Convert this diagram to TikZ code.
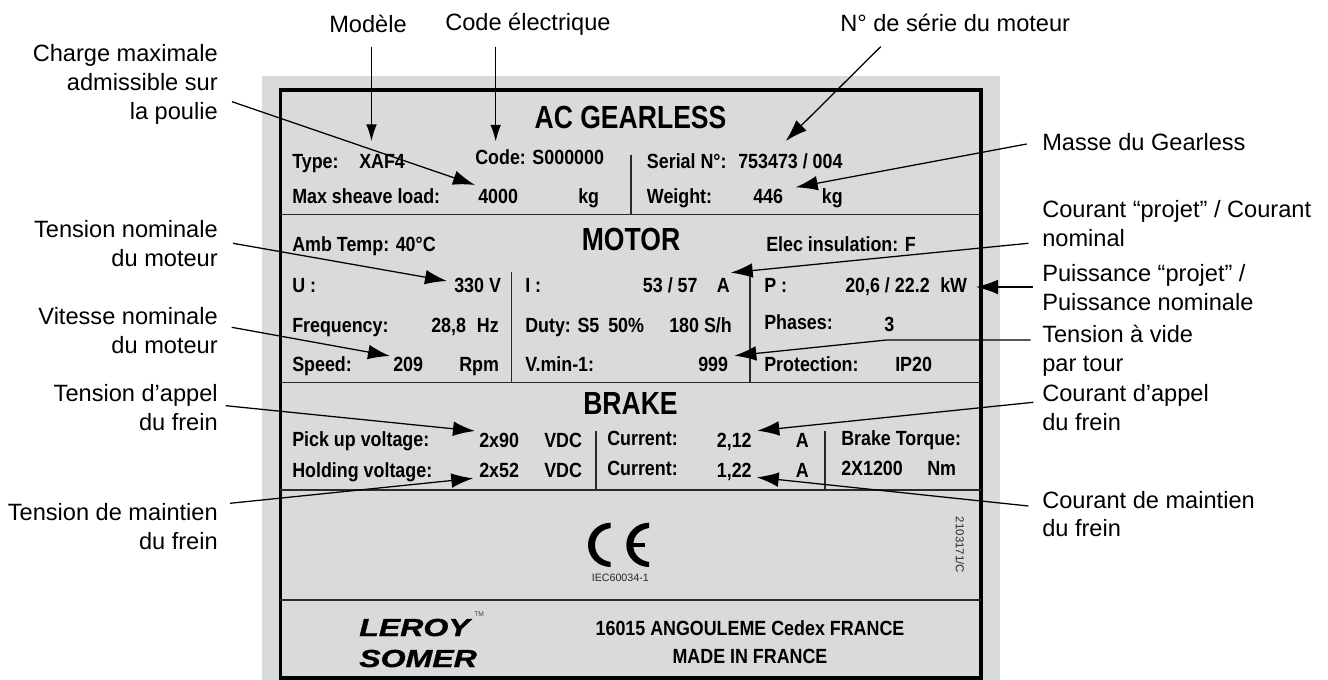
\documentclass[tikz,border=0pt]{standalone}
\usepackage{fontspec}
\usetikzlibrary{arrows.meta}
\setmainfont{Liberation Sans}
\newfontfamily\platefont[FakeStretch=0.87]{Liberation Sans}
\newfontfamily\titlefont[FakeStretch=0.83]{Liberation Sans}
\newfontfamily\logofont[FakeStretch=1.3,FakeBold=1.2]{Liberation Sans}
\definecolor{panelgray}{HTML}{D9DADC}
\definecolor{ruledark}{HTML}{2A2A2A}
\tikzset{
  callout/.style={font=\fontsize{17.7}{21.75}\selectfont,inner sep=0pt,text=black},
  calloutR/.style={callout,anchor=base east,align=right},
  calloutL/.style={callout,anchor=base west,align=left},
  plate/.style={font=\platefont\bfseries\fontsize{15.4}{17}\selectfont,anchor=base west,inner sep=0pt,text=black},
  platetitle/.style={font=\titlefont\bfseries\fontsize{24}{26}\selectfont,anchor=base,inner sep=0pt,text=black},
  platecenter/.style={font=\platefont\bfseries\fontsize{15.4}{17}\selectfont,anchor=base,inner sep=0pt,text=black},
  logotext/.style={font=\logofont\bfseries\itshape\fontsize{18.5}{20}\selectfont,anchor=base west,inner sep=0pt,text=black},
  rule/.style={draw=ruledark,line width=1.1pt},
  pointer/.style={draw=black,line width=0.95pt,-{Latex[length=16.5pt,width=11pt]}},
  pointersmall/.style={draw=black,line width=0.95pt,-{Latex[length=12.5pt,width=8pt]}},
}
\begin{document}
\begin{tikzpicture}[x=0.75pt,y=-0.75pt]
\useasboundingbox (0,0) rectangle (1328,680);
% panel and frame
\fill[panelgray] (262,76) rectangle (1000,680);
\draw[black,line width=2.4pt] (280.8,90) rectangle (981,678);
\draw[rule] (280,214.5) -- (981,214.5);
\draw[rule] (280,382.5) -- (981,382.5);
\draw[rule] (280,490) -- (981,490);
\draw[rule] (280,600) -- (981,600);
\draw[rule] (631,155) -- (631,214);
\draw[rule] (511.7,272) -- (511.7,382);
\draw[rule] (750,272) -- (750,382);
\draw[rule] (596,431) -- (596,490);
\draw[rule] (825,431) -- (825,490);
% titles
\node[platetitle] (acg) at (630.5,129) {AC GEARLESS};
\node[platetitle] (motor) at (631,251) {MOTOR};
\node[platetitle] (brake) at (630.5,415) {BRAKE};
% AC gearless rows
\node[plate] (type) at (292,169) {Type:};
\node[plate] (xaf) at (359,169) {XAF4};
\node[plate] (code) at (475,165) {Code: S000000};
\node[plate] (serial) at (646.7,169) {Serial N°:};
\node[plate] (serialv) at (738,169) {753473 / 004};
\node[plate] (maxs) at (292,204) {Max sheave load:};
\node[plate] (maxv) at (478,204) {4000};
\node[plate] (maxu) at (578,204) {kg};
\node[plate] (wgt) at (646.7,204) {Weight:};
\node[plate] (wgtv) at (753,204) {446};
\node[plate] (wgtu) at (821.7,204) {kg};
% motor rows
\node[plate] (amb) at (292,251.7) {Amb Temp: 40°C};
\node[plate] (elec) at (766,251.7) {Elec insulation: F};
\node[plate] (u) at (292,293) {U :};
\node[plate] (uv) at (454,293) {330 V};
\node[plate] (i) at (525,293) {I :};
\node[plate] (iv) at (642.7,293) {53 / 57};
\node[plate] (iu) at (716.7,293) {A};
\node[plate] (p) at (764,293) {P :};
\node[plate] (pv) at (845,293) {20,6 / 22.2};
\node[plate] (pu) at (940,293) {kW};
\node[plate] (freq) at (292,333) {Frequency:};
\node[plate] (freqv) at (431,333) {28,8};
\node[plate] (frequ) at (476.7,333) {Hz};
\node[plate] (duty) at (525,333) {Duty: S5};
\node[plate] (dutyb) at (608,333) {50\%};
\node[plate] (dutyc) at (669,333) {180 S/h};
\node[plate] (ph) at (764,329.5) {Phases:};
\node[plate] (phv) at (884,331.7) {3};
\node[plate] (spd) at (292,371.7) {Speed:};
\node[plate] (spdv) at (393,371.7) {209};
\node[plate] (spdu) at (459,371.7) {Rpm};
\node[plate] (vmin) at (525,371.7) {V.min-1:};
\node[plate] (vminv) at (698,371.7) {999};
\node[plate] (prot) at (764,371.7) {Protection:};
\node[plate] (protv) at (895,371.7) {IP20};
% brake rows
\node[plate] (pick) at (292,446.5) {Pick up voltage:};
\node[plate] (pickv) at (479,448) {2x90};
\node[plate] (picku) at (544,448) {VDC};
\node[plate] (cura) at (607,446) {Current:};
\node[plate] (curav) at (716.6,447.5) {2,12};
\node[plate] (curau) at (795.7,447.5) {A};
\node[plate] (torq) at (841,446) {Brake Torque:};
\node[plate] (hold) at (292,478) {Holding voltage:};
\node[plate] (holdv) at (479,478) {2x52};
\node[plate] (holdu) at (544,478) {VDC};
\node[plate] (curb) at (607,476) {Current:};
\node[plate] (curbv) at (716.6,478) {1,22};
\node[plate] (curbu) at (795.7,478) {A};
\node[plate] (torqv) at (841,476) {2X1200};
\node[plate] (torqu) at (927,476) {Nm};
% CE mark
\fill[black] (610.7,522.7) .. controls (598.5,522.7) and (588,532.5) .. (588,545) .. controls (588,557.5) and (598.5,567) .. (610.7,567) -- (610.7,562) .. controls (602,560.5) and (595,555) .. (595,545) .. controls (595,535) and (602,529.5) .. (610.7,528) -- cycle;
\fill[black] (649,522.7) .. controls (636.8,522.7) and (626.3,532.5) .. (626.3,545) .. controls (626.3,557.5) and (636.8,567) .. (649,567) -- (649,562) .. controls (640.3,560.5) and (633.3,555) .. (633.3,545) .. controls (633.3,535) and (640.3,529.5) .. (649,528) -- cycle;
\fill[black] (632,543.3) rectangle (645,546.7);
\node[font=\fontsize{8}{9}\selectfont,anchor=base,inner sep=0pt,text=black!85] (iec) at (620.3,581) {IEC60034-1};
\node[font=\fontsize{8.6}{10}\selectfont,rotate=-90,anchor=center,inner sep=0pt,text=black!85] (ref) at (960,545) {2103171/C};
% footer
\node[logotext] (leroy) at (359,636) {LEROY};
\node[logotext] (somer) at (359,667) {SOMER};
\node[font=\fontsize{5}{6}\selectfont,anchor=base west,inner sep=0pt,text=black!75] (tm) at (474,616) {TM};
\node[platecenter] (addr) at (750,635) {16015 ANGOULEME Cedex FRANCE};
\node[platecenter] (made) at (750,663) {MADE IN FRANCE};
% callouts
\node[callout,anchor=base west] (lmod) at (329,32.3) {Modèle};
\node[callout,anchor=base west] (lcode) at (445,30.7) {Code électrique};
\node[callout,anchor=base west] (lser) at (840,32) {N° de série du moteur};
\node[calloutR] (lcharge) at (218,61.7) {Charge maximale};
\node[calloutR] (lcharge2) at (218,90.7) {admissible sur};
\node[calloutR] (lcharge3) at (218,119.5) {la poulie};
\node[calloutR] (ltn) at (218,237.3) {Tension nominale};
\node[calloutR] (ltn2) at (218,266.5) {du moteur};
\node[calloutR] (lvn) at (218,325) {Vitesse nominale};
\node[calloutR] (lvn2) at (218,354) {du moteur};
\node[calloutR] (lta) at (218,401.7) {Tension d’appel};
\node[calloutR] (lta2) at (218,430.7) {du frein};
\node[calloutR] (ltm) at (218,520.7) {Tension de maintien};
\node[calloutR] (ltm2) at (218,549.5) {du frein};
\node[calloutL] (lmas) at (1042,150.7) {Masse du Gearless};
\node[calloutL] (lcp) at (1042,217.7) {Courant “projet” / Courant};
\node[calloutL] (lcp2) at (1042,246.7) {nominal};
\node[calloutL] (lpu) at (1042,281.7) {Puissance “projet” /};
\node[calloutL] (lpu2) at (1042,310.7) {Puissance nominale};
\node[calloutL] (ltv) at (1042,342.7) {Tension à vide};
\node[calloutL] (ltv2) at (1042,372) {par tour};
\node[calloutL] (lca) at (1042,401.7) {Courant d’appel};
\node[calloutL] (lca2) at (1042,430.7) {du frein};
\node[calloutL] (lcm) at (1042,508.3) {Courant de maintien};
\node[calloutL] (lcm2) at (1042,537) {du frein};
% connector ends
\coordinate (amod) at (371.5,46.7); \coordinate (bmod) at (371.5,141);
\coordinate (acode) at (495.7,46.7); \coordinate (bcode) at (495.7,141.5);
\coordinate (aser) at (880.7,46.7); \coordinate (bser) at (785.7,141);
\coordinate (achg) at (232,101.7); \coordinate (bchg) at (475,185);
\coordinate (atn) at (233,243.3); \coordinate (btn) at (447,281);
\coordinate (avn) at (231.7,327.3); \coordinate (bvn) at (390,356);
\coordinate (ata) at (225.7,405.7); \coordinate (bta) at (475,431);
\coordinate (atm) at (230,503.3); \coordinate (btm) at (473.3,478.3);
\coordinate (amas) at (1026.7,144); \coordinate (bmas) at (795.7,187.3);
\coordinate (acp) at (1028.3,243.3); \coordinate (bcp) at (730.7,272.7);
\coordinate (apu) at (1032.7,287); \coordinate (bpu) at (976,287);
\coordinate (atv) at (1030.7,340); \coordinate (ctv) at (886.7,340); \coordinate (btv) at (734.3,355.7);
\coordinate (aca) at (1033.3,402.3); \coordinate (bca) at (757.3,430.7);
\coordinate (acm) at (1028.3,506); \coordinate (bcm) at (756.7,477.3);
% connectors
\draw[pointersmall] (amod) -- (bmod);
\draw[pointersmall] (acode) -- (bcode);
\draw[pointer] (aser) -- (bser);
\draw[pointer] (achg) -- (bchg);
\draw[pointer] (atn) -- (btn);
\draw[pointer] (avn) -- (bvn);
\draw[pointer] (ata) -- (bta);
\draw[pointer] (atm) -- (btm);
\draw[pointer] (amas) -- (bmas);
\draw[pointer] (acp) -- (bcp);
\draw[pointer] (apu) -- (bpu);
\draw[pointer] (atv) -- (ctv) -- (btv);
\draw[pointer] (aca) -- (bca);
\draw[pointer] (acm) -- (bcm);
\end{tikzpicture}
\end{document}
